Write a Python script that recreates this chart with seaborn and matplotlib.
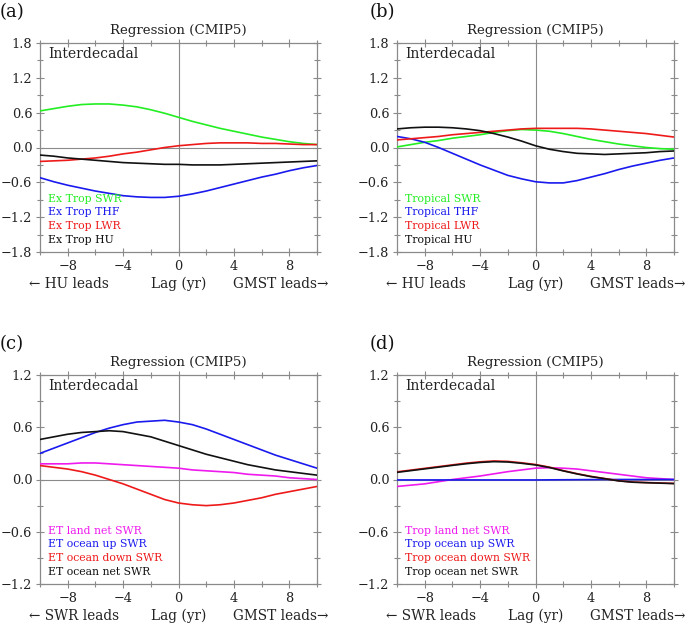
import numpy as np
import pandas as pd
import matplotlib
matplotlib.use("Agg")
import matplotlib.pyplot as plt
import seaborn as sns

lags = list(range(-10, 11))

# Panel (a): Extratropical
a_swr = [0.63, 0.67, 0.71, 0.74, 0.75, 0.75, 0.73, 0.70, 0.65, 0.59, 0.52, 0.45, 0.39, 0.33, 0.28, 0.23, 0.18, 0.14, 0.10, 0.07, 0.05]
a_thf = [-0.52, -0.59, -0.65, -0.70, -0.75, -0.79, -0.83, -0.85, -0.86, -0.86, -0.84, -0.80, -0.75, -0.69, -0.63, -0.57, -0.51, -0.46, -0.40, -0.35, -0.31]
a_lwr = [-0.24, -0.23, -0.22, -0.20, -0.18, -0.15, -0.11, -0.08, -0.04, 0.00, 0.03, 0.05, 0.07, 0.08, 0.08, 0.08, 0.07, 0.07, 0.06, 0.05, 0.05]
a_hu = [-0.13, -0.15, -0.18, -0.20, -0.22, -0.24, -0.26, -0.27, -0.28, -0.29, -0.29, -0.30, -0.30, -0.30, -0.29, -0.28, -0.27, -0.26, -0.25, -0.24, -0.23]

# Panel (b): Tropical
b_swr = [0.01, 0.05, 0.09, 0.12, 0.16, 0.19, 0.22, 0.26, 0.29, 0.31, 0.30, 0.28, 0.24, 0.19, 0.14, 0.10, 0.06, 0.03, 0.00, -0.02, -0.03]
b_thf = [0.19, 0.15, 0.09, 0.00, -0.10, -0.20, -0.30, -0.39, -0.48, -0.54, -0.59, -0.61, -0.61, -0.57, -0.51, -0.45, -0.38, -0.32, -0.27, -0.22, -0.18]
b_lwr = [0.13, 0.15, 0.17, 0.19, 0.22, 0.24, 0.26, 0.28, 0.30, 0.32, 0.33, 0.33, 0.33, 0.33, 0.32, 0.30, 0.28, 0.26, 0.24, 0.21, 0.18]
b_hu = [0.32, 0.34, 0.35, 0.35, 0.34, 0.32, 0.29, 0.24, 0.18, 0.11, 0.03, -0.03, -0.07, -0.10, -0.11, -0.12, -0.11, -0.10, -0.09, -0.07, -0.06]

# Panel (c): ET SWR components
c_land = [0.18, 0.18, 0.18, 0.19, 0.19, 0.18, 0.17, 0.16, 0.15, 0.14, 0.13, 0.11, 0.10, 0.09, 0.08, 0.06, 0.05, 0.04, 0.02, 0.01, 0.00]
c_up = [0.30, 0.36, 0.42, 0.48, 0.54, 0.59, 0.63, 0.66, 0.67, 0.68, 0.66, 0.63, 0.58, 0.52, 0.46, 0.40, 0.34, 0.28, 0.23, 0.18, 0.13]
c_down = [0.16, 0.14, 0.12, 0.09, 0.05, 0.00, -0.05, -0.11, -0.17, -0.23, -0.27, -0.29, -0.30, -0.29, -0.27, -0.24, -0.21, -0.17, -0.14, -0.11, -0.08]
c_net = [0.46, 0.49, 0.52, 0.54, 0.55, 0.56, 0.55, 0.52, 0.49, 0.44, 0.39, 0.34, 0.29, 0.25, 0.21, 0.17, 0.14, 0.11, 0.09, 0.07, 0.05]

# Panel (d): Tropical SWR components
d_land = [-0.08, -0.065, -0.05, -0.025, 0.00, 0.02, 0.04, 0.065, 0.09, 0.11, 0.13, 0.135, 0.13, 0.12, 0.10, 0.08, 0.06, 0.04, 0.02, 0.01, 0.00]
d_up = [-0.005, -0.005, -0.005, -0.005, -0.005, -0.005, -0.005, -0.005, -0.005, -0.005, -0.005, -0.004, -0.003, -0.002, -0.001, 0.0, 0.0, 0.0, 0.0, 0.0, 0.0]
d_down = [0.088, 0.108, 0.128, 0.148, 0.168, 0.188, 0.203, 0.213, 0.208, 0.192, 0.172, 0.142, 0.102, 0.067, 0.036, 0.011, -0.014, -0.029, -0.035, -0.040, -0.045]
d_net = [0.082, 0.102, 0.122, 0.142, 0.162, 0.181, 0.196, 0.205, 0.201, 0.186, 0.167, 0.138, 0.099, 0.064, 0.033, 0.009, -0.016, -0.031, -0.037, -0.042, -0.047]

panels = [
    dict(tag="(a)", lead="HU", ylim=1.8, names=["Ex Trop SWR", "Ex Trop THF", "Ex Trop LWR", "Ex Trop HU"],
         series=[a_swr, a_thf, a_lwr, a_hu], colors=["#22ee22", "#1a1aee", "#ee1a1a", "#111111"]),
    dict(tag="(b)", lead="HU", ylim=1.8, names=["Tropical SWR", "Tropical THF", "Tropical LWR", "Tropical HU"],
         series=[b_swr, b_thf, b_lwr, b_hu], colors=["#22ee22", "#1a1aee", "#ee1a1a", "#111111"]),
    dict(tag="(c)", lead="SWR", ylim=1.2, names=["ET land net SWR", "ET ocean up SWR", "ET ocean down SWR", "ET ocean net SWR"],
         series=[c_land, c_up, c_down, c_net], colors=["#ee1aee", "#1a1aee", "#ee1a1a", "#111111"]),
    dict(tag="(d)", lead="SWR", ylim=1.2, names=["Trop land net SWR", "Trop ocean up SWR", "Trop ocean down SWR", "Trop ocean net SWR"],
         series=[d_land, d_up, d_down, d_net], colors=["#ee1aee", "#1a1aee", "#ee1a1a", "#111111"]),
]

sns.set_style("ticks")
plt.rcParams["font.family"] = ["DejaVu Serif", "DejaVu Sans"]

W, H = 685, 625
fig = plt.figure(figsize=(W / 100, H / 100), dpi=100)

boxes = [(40, 43), (397, 43), (40, 375), (397, 375)]
aw, ah = 277, 209
gray = "#8a8a8a"
txt = "#222222"


def fmt(v):
    v = round(v, 1)
    if abs(v) < 1e-9:
        v = 0.0
    return f"{v:.1f}".replace("-", "\u2212")


for p, (x0, y0) in zip(panels, boxes):
    ax = fig.add_axes([x0 / W, 1 - (y0 + ah) / H, aw / W, ah / H])
    df = pd.DataFrame({
        "lag": np.tile(lags, 4),
        "value": np.concatenate(p["series"]),
        "var": np.repeat(p["names"], len(lags)),
    })
    ax.axhline(0, color=gray, lw=0.8, zorder=1)
    ax.axvline(0, color=gray, lw=0.8, zorder=1)
    sns.lineplot(data=df, x="lag", y="value", hue="var", hue_order=p["names"],
                 palette=dict(zip(p["names"], p["colors"])), lw=1.2, legend=False, ax=ax, zorder=3)
    ax.set_xlim(-10, 10)
    ym = p["ylim"]
    ax.set_ylim(-ym, ym)
    yt = np.round(np.arange(-ym, ym + 0.01, 0.6), 1)
    ax.set_xticks([-8, -4, 0, 4, 8])
    ax.set_xticks(np.arange(-10, 11, 2), minor=True)
    ax.set_yticks(yt)
    ax.set_yticks(np.round(np.arange(-ym, ym + 0.01, 0.3), 1), minor=True)
    ax.set_yticklabels([fmt(v) for v in yt])
    ax.set_xticklabels(["\u22128", "\u22124", "0", "4", "8"])
    ax.set_xlabel("")
    ax.set_ylabel("")
    for s in ax.spines.values():
        s.set_visible(True)
        s.set_color(gray)
        s.set_linewidth(0.9)
    ax.tick_params(which="both", direction="inout", color=gray, top=True, right=True,
                   labelsize=9.3, labelcolor=txt, width=0.8)
    ax.tick_params(which="major", length=6, pad=2.5)
    ax.tick_params(which="minor", length=4)
    ax.text(0.5, 1.062, "Regression (CMIP5)", transform=ax.transAxes, ha="center", va="center",
            fontsize=9.6, color=txt)
    ax.text(0.03, 0.945, "Interdecadal", transform=ax.transAxes, ha="left", va="center",
            fontsize=10, color=txt)
    for i, (nm, c) in enumerate(zip(p["names"], p["colors"])):
        ax.text(0.028, 0.255 - i * 0.066, nm, transform=ax.transAxes, ha="left", va="center",
                fontsize=7.8, color=c)
    yb = -0.172
    ax.text(-0.04, yb, "\u2190 " + p["lead"] + " leads", transform=ax.transAxes, ha="left",
            va="baseline", fontsize=9.8, color=txt)
    ax.text(0.5, yb, "Lag (yr)", transform=ax.transAxes, ha="center", va="baseline",
            fontsize=9.8, color=txt)
    ax.text(1.04, yb, "GMST leads\u2192", transform=ax.transAxes, ha="right", va="baseline",
            fontsize=9.8, color=txt)
    fig.text((x0 - 40 + (0 if x0 < 300 else 13)) / W, 1 - (y0 - 31) / H, p["tag"],
             ha="left", va="center", fontsize=13, color="#111111")

fig.savefig("out.png", dpi=100)
